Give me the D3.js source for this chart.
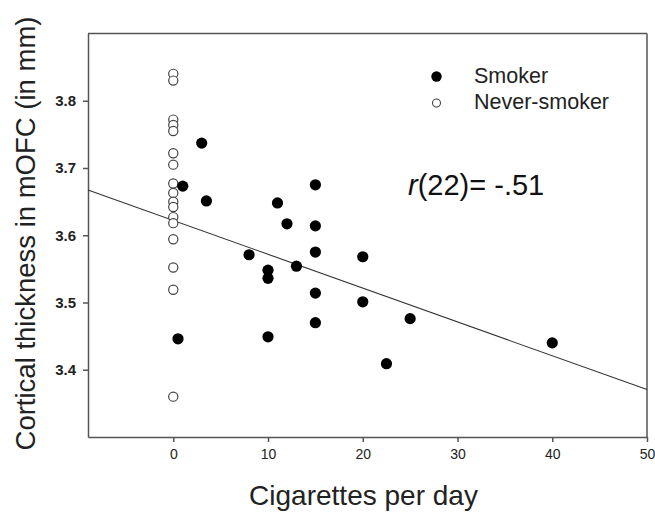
<!DOCTYPE html>
<html>
<head>
<meta charset="utf-8">
<script src="https://cdn.jsdelivr.net/npm/d3@7"></script>
<style>
  body { margin: 0; background: #fff; }
  svg { font-family: Arial, "Liberation Sans", sans-serif; }
</style>
</head>
<body>
<div id="chart"></div>
<script>
// smokers: cigarettes per day vs. thickness
const smokerCigs = [1, 3.5, 11, 15, 12, 15, 8, 15, 20, 13, 10, 10, 15, 20, 15, 25, 3, 0.5, 10, 22.5, 40];
const smokerThick = [3.673, 3.651, 3.648, 3.675, 3.617, 3.614, 3.571, 3.575, 3.568, 3.554, 3.548, 3.536, 3.514, 3.501, 3.470, 3.476, 3.737, 3.446, 3.449, 3.409, 3.440];

// never-smokers, all at 0 cigarettes
const neverThick = [3.840, 3.830, 3.772, 3.764, 3.755, 3.722, 3.705, 3.677, 3.663, 3.650, 3.642, 3.627, 3.618, 3.594, 3.552, 3.519, 3.360];

const xTicks = [0, 10, 20, 30, 40, 50];
const yTicks = [3.4, 3.5, 3.6, 3.7, 3.8];

// regression line r(22) = -.51
const fitIntercept = 3.622;
const fitSlope = -0.00503;

const width = 655, height = 513;
const margin = { left: 88, right: 8, top: 33.5, bottom: 76 };

const svg = d3.select("#chart").append("svg")
    .attr("width", width)
    .attr("height", height);

const x = d3.scaleLinear().domain([-9, 50]).range([margin.left, width - margin.right]);
const y = d3.scaleLinear().domain([3.3, 3.9]).range([height - margin.bottom, margin.top]);

const axisColor = "#555";

// frame top/right
svg.append("line")
    .attr("x1", x(-9)).attr("x2", x(50))
    .attr("y1", y(3.9)).attr("y2", y(3.9))
    .attr("stroke", axisColor).attr("stroke-width", 1.5);
svg.append("line")
    .attr("x1", x(50)).attr("x2", x(50))
    .attr("y1", y(3.9)).attr("y2", y(3.3))
    .attr("stroke", axisColor).attr("stroke-width", 1.5);

const xAxis = svg.append("g")
    .attr("transform", `translate(0,${y(3.3)})`)
    .call(d3.axisBottom(x).tickValues(xTicks).tickSize(5).tickPadding(7).tickSizeOuter(0));
xAxis.selectAll("text").attr("font-size", 14).attr("fill", "#222")
    .attr("font-family", "Arial, 'Liberation Sans', sans-serif");

const yAxis = svg.append("g")
    .attr("transform", `translate(${x(-9)},0)`)
    .call(d3.axisLeft(y).tickValues(yTicks).tickFormat(d3.format(".1f")).tickSize(5).tickPadding(7).tickSizeOuter(0));
yAxis.selectAll("text").attr("font-size", 15).attr("font-weight", "bold").attr("fill", "#222")
    .attr("font-family", "Arial, 'Liberation Sans', sans-serif");

svg.selectAll(".domain, .tick line").attr("stroke", axisColor).attr("stroke-width", 1.5);

// regression line
svg.append("line")
    .attr("x1", x(-9)).attr("y1", y(fitIntercept + fitSlope * -9))
    .attr("x2", x(50)).attr("y2", y(fitIntercept + fitSlope * 50))
    .attr("stroke", "#333").attr("stroke-width", 1.1);

// never-smokers
svg.append("g").selectAll("circle")
    .data(neverThick)
    .join("circle")
    .attr("cx", x(0))
    .attr("cy", d => y(d))
    .attr("r", 4.6)
    .attr("fill", "#fff")
    .attr("stroke", "#444")
    .attr("stroke-width", 1.2);

// smokers
svg.append("g").selectAll("circle")
    .data(smokerCigs.map((c, i) => [c, smokerThick[i]]))
    .join("circle")
    .attr("cx", d => x(d[0]))
    .attr("cy", d => y(d[1]))
    .attr("r", 5.6)
    .attr("fill", "#000");

// legend
const legend = svg.append("g");
legend.append("circle").attr("cx", 436.5).attr("cy", 76.5).attr("r", 5.2).attr("fill", "#000");
legend.append("circle").attr("cx", 436.5).attr("cy", 103).attr("r", 4).attr("fill", "#fff")
    .attr("stroke", "#444").attr("stroke-width", 1.1);
legend.append("text").attr("x", 474).attr("y", 83).attr("font-size", 21.5).attr("fill", "#222").text("Smoker");
legend.append("text").attr("x", 474).attr("y", 109).attr("font-size", 21.5).attr("fill", "#222").text("Never-smoker");

// correlation annotation
const rText = svg.append("text").attr("x", 408).attr("y", 195).attr("font-size", 29).attr("fill", "#111");
rText.append("tspan").attr("font-style", "italic").text("r");
rText.append("tspan").text("(22)= -.51");

// axis titles
svg.append("text")
    .attr("x", 363.5).attr("y", 505)
    .attr("text-anchor", "middle")
    .attr("font-size", 28).attr("fill", "#222")
    .text("Cigarettes per day");

svg.append("text")
    .attr("transform", `translate(35,233.5) rotate(-90)`)
    .attr("text-anchor", "middle")
    .attr("font-size", 27.5).attr("fill", "#222")
    .text("Cortical thickness in mOFC (in mm)");
</script>
</body>
</html>
